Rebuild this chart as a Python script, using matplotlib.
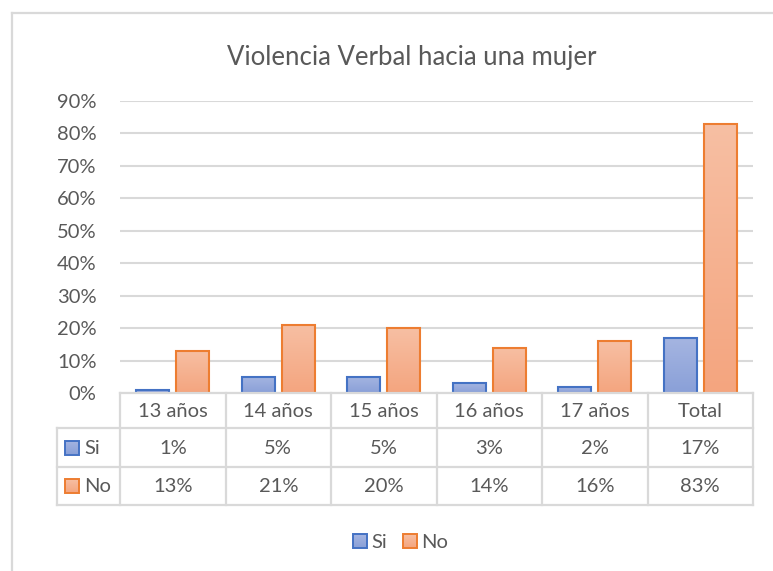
"""Violencia Verbal hacia una mujer: grouped bars with an Excel-style data table."""
import matplotlib
matplotlib.use("Agg")
import matplotlib.pyplot as plt
import numpy as np
from matplotlib.colors import LinearSegmentedColormap
from matplotlib.patches import Rectangle

plt.rcParams["font.family"] = ["Lato", "DejaVu Sans"]

TITLE = "Violencia Verbal hacia una mujer"
categories = ["13 años", "14 años", "15 años", "16 años", "17 años", "Total"]
series_names = ["Si", "No"]
si_values = [1, 5, 5, 3, 2, 17]
no_values = [13, 21, 20, 14, 16, 83]
y_ticks = [0, 10, 20, 30, 40, 50, 60, 70, 80, 90]

W, H = 773, 571
TEXT = "#595959"
GRID = "#D9D9D9"
EDGES = ["#4472C4", "#ED7D31"]
GRADS = [("#A5B5E1", "#8AA0D8"), ("#F7BFA3", "#F4A57F")]

# layout in pixels (from top-left)
PLOT_L, PLOT_R, PLOT_T, PLOT_B = 120, 753, 101, 393
ROWS = [393, 428, 467, 505]
KEY_L = 57
FS = 14.5


def fx(px):
    return px / W


def fy(py):
    return 1 - py / H


def gradient_fill(ax, x0, y0, w, h, colors, edge, lw=1.5):
    cmap = LinearSegmentedColormap.from_list("g", [colors[1], colors[0]])
    rect = Rectangle((x0, y0), w, h, facecolor="none", edgecolor=edge, linewidth=lw, zorder=3)
    ax.add_patch(rect)
    grad = np.linspace(0, 1, 64).reshape(-1, 1)
    ylo, yhi = (y0, y0 + h) if h >= 0 else (y0 + h, y0)
    if ax.yaxis_inverted():
        grad = grad[::-1]
    im = ax.imshow(grad, cmap=cmap, aspect="auto", origin="lower",
                   extent=(x0, x0 + w, ylo, yhi), zorder=2, interpolation="bilinear")
    im.set_clip_path(rect)


fig = plt.figure(figsize=(W / 100, H / 100), dpi=100)

# bars
ax = fig.add_axes([fx(PLOT_L), fy(PLOT_B), fx(PLOT_R - PLOT_L), (PLOT_B - PLOT_T) / H])
n = len(categories)
x = np.arange(n)
bar_w, offset = 0.315, 0.19
for vals, sign, grad, edge in zip([si_values, no_values], [-1, 1], GRADS, EDGES):
    for xi, v in zip(x, vals):
        gradient_fill(ax, xi + sign * offset - bar_w / 2, 0, bar_w, v / 100, grad, edge)
ax.set_xlim(-0.5, n - 0.5)
ax.set_ylim(0, 0.9)
ax.set_yticks([t / 100 for t in y_ticks])
ax.set_yticklabels([f"{t}%" for t in y_ticks])
ax.tick_params(axis="y", length=0, pad=17, labelsize=FS, labelcolor=TEXT)
ax.set_xticks([])
ax.grid(axis="y", color=GRID, linewidth=1.5)
ax.set_axisbelow(True)
for s in ax.spines.values():
    s.set_visible(False)

# overlay in pixel coordinates for table, legend, title and frame
ov = fig.add_axes([0, 0, 1, 1], zorder=5)
ov.set_xlim(0, W)
ov.set_ylim(H, 0)
ov.axis("off")

col_w = (PLOT_R - PLOT_L) / n
col_edges = [PLOT_L + i * col_w for i in range(n + 1)]
lk = dict(color=GRID, linewidth=1.6, solid_capstyle="projecting")
ov.plot([PLOT_L, PLOT_R], [ROWS[0], ROWS[0]], **lk)
for r in ROWS[1:]:
    ov.plot([KEY_L, PLOT_R], [r, r], **lk)
ov.plot([KEY_L, KEY_L], [ROWS[1], ROWS[3]], **lk)
for cx in col_edges:
    ov.plot([cx, cx], [ROWS[0], ROWS[3]], **lk)

for i, cat in enumerate(categories):
    cx = (col_edges[i] + col_edges[i + 1]) / 2
    ov.text(cx, (ROWS[0] + ROWS[1]) / 2 + 1, cat, ha="center", va="center", fontsize=FS, color=TEXT)
    ov.text(cx, (ROWS[1] + ROWS[2]) / 2 + 1, f"{si_values[i]}%", ha="center", va="center", fontsize=FS, color=TEXT)
    ov.text(cx, (ROWS[2] + ROWS[3]) / 2 + 1, f"{no_values[i]}%", ha="center", va="center", fontsize=FS, color=TEXT)

key = 14
for j, name in enumerate(series_names):
    cy = (ROWS[j + 1] + ROWS[j + 2]) / 2
    gradient_fill(ov, 65, cy - key / 2, key, key, GRADS[j], EDGES[j], lw=1.4)
    ov.text(84, cy + 1, name, ha="left", va="center", fontsize=FS, color=TEXT)

# bottom legend
leg_y = 541
leg_x = [353, 403]
for j, name in enumerate(series_names):
    gradient_fill(ov, leg_x[j], leg_y - key / 2, key, key, GRADS[j], EDGES[j], lw=1.4)
    ov.text(leg_x[j] + 18, leg_y + 1, name, ha="left", va="center", fontsize=FS, color=TEXT)

ov.text(412, 57, TITLE, ha="center", va="center", fontsize=18.5, color=TEXT)

# chart frame (right and bottom edges fall outside the picture)
ov.plot([12, 12], [13, H], color=GRID, linewidth=1.6)
ov.plot([12, W], [13, 13], color=GRID, linewidth=1.6)

fig.savefig("out.png", dpi=100, facecolor="white")
